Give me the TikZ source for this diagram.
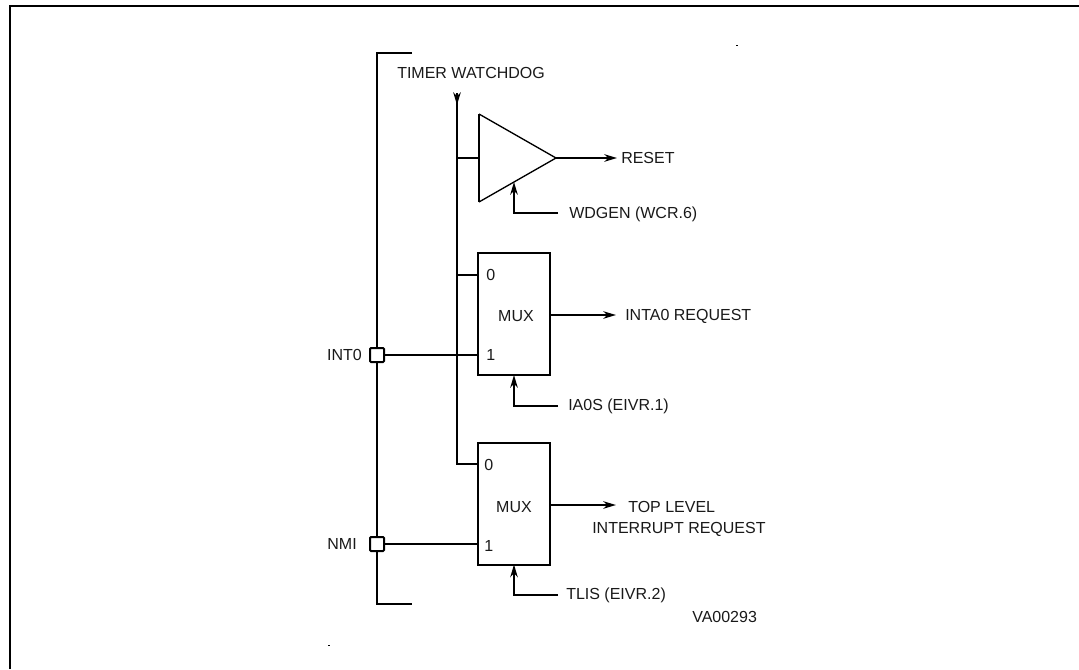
\documentclass[tikz,border=0pt]{standalone}
\usepackage{fontspec}
\setmainfont{Liberation Sans}
\usepackage{tikz}
\usetikzlibrary{arrows.meta,calc,positioning}
\definecolor{InkBlack}{RGB}{25,25,25}
\tikzset{
  wire/.style={line width=1.5pt,black},
  framewire/.style={line width=1.7pt,black},
  tagtext/.style={inner sep=0pt,anchor=west,text=InkBlack,font=\fontsize{12}{14}\selectfont,text height=8.6pt,text depth=0pt},
  muxbox/.style={draw,line width=1.5pt,minimum width=54pt,minimum height=91.5pt,inner sep=0pt,outer sep=0pt},
  padbox/.style={draw,fill=white,line width=1.5pt,rounded corners=0.8pt,minimum size=10.5pt,inner sep=0pt,outer sep=0pt}
}
\begin{document}
\begin{tikzpicture}[x=0.75pt,y=-0.75pt,>={Stealth[length=9.5pt,width=5.6pt,inset=3pt]}]
      \useasboundingbox (0,0) rectangle (1079,669);
      \draw[framewire] (10,669)--(10,6)--(1079,6);
      \node[muxbox] (muxa) at (514,314) {};
      \node[muxbox] (muxb) at (514,503.5) {};
      \node[tagtext,anchor=center] (muxatext) at (516,316) {MUX};
      \node[tagtext,anchor=center] (muxbtext) at (514,507) {MUX};
      \coordinate (bustop) at (377,52.7);
      \coordinate (busbot) at (377,604);
      \draw[wire] (412,52.7)--(bustop)--(busbot)--(412,604);
      \node[padbox] (int0pad) at (377,355) {};
      \node[padbox] (nmipad) at (377,544) {};
      \node[tagtext,anchor=east] (int0text) at (362,355) {INT0};
      \node[tagtext,anchor=east] (nmitext) at (357,544) {NMI};
      \node[tagtext] at (397,73) {TIMER WATCHDOG};
      \coordinate (wdtop) at (457,93);
      \coordinate (wdtip) at (457,105);
      \coordinate (wdbend) at (457,464);
      \draw[wire] (wdtop)--(wdbend)--(wdbend-|muxb.west);
      \draw[->,wire] (wdtop)--(wdtip);
      \coordinate (gatetop) at (479,114);
      \coordinate (gatebot) at (479,202);
      \coordinate (gateout) at (556,158);
      \coordinate (gatein) at (479,158);
      \draw[line width=1pt] (gatetop)--(gateout)--(gatebot);
      \draw[wire] (gatetop)--(gatebot);
      \draw[wire] (wdbend|-gatein)--(gatein);
      \node[tagtext] (resettext) at (621,158) {RESET};
      \draw[->,wire] (gateout)--(617,158);
      \coordinate (wdgenin) at (514,182);
      \coordinate (wdgenend) at (558,213);
      \draw[->,wire] (wdgenend)--(wdgenin|-wdgenend)--(wdgenin);
      \node[tagtext] at (569,213) {WDGEN (WCR.6)};
      \draw[wire] (wdbend|-0,275)--(muxa.west|-0,275);
      \draw[wire] (int0pad)--(int0pad-|muxa.west);
      \node[tagtext] at (486,275) {0};
      \node[tagtext] at (486,355) {1};
      \draw[->,wire] (muxa.east|-0,315)--(616,315);
      \node[tagtext] at (625,315) {INTA0 REQUEST};
      \coordinate (ia0end) at (558,405.5);
      \draw[->,wire] (ia0end)--(muxa.south|-ia0end)--(muxa.south);
      \node[tagtext] at (568,405) {IA0S (EIVR.1)};
      \node[tagtext] at (484,465) {0};
      \node[tagtext] at (484,546) {1};
      \draw[wire] (nmipad)--(nmipad-|muxb.west);
      \draw[->,wire] (muxb.east|-0,505)--(616,505);
      \node[tagtext] at (628,507) {TOP LEVEL};
      \node[tagtext] at (592,528) {INTERRUPT REQUEST};
      \coordinate (tlisend) at (558,594.7);
      \draw[->,wire] (tlisend)--(muxb.south|-tlisend)--(muxb.south);
      \node[tagtext] at (566,594) {TLIS (EIVR.2)};
      \node[tagtext] at (692,617) {VA00293};
      \foreach \x/\y in {736/45,328/645}{\fill (\x,\y) rectangle ++(2,1.4);}
    \end{tikzpicture}
\end{document}
